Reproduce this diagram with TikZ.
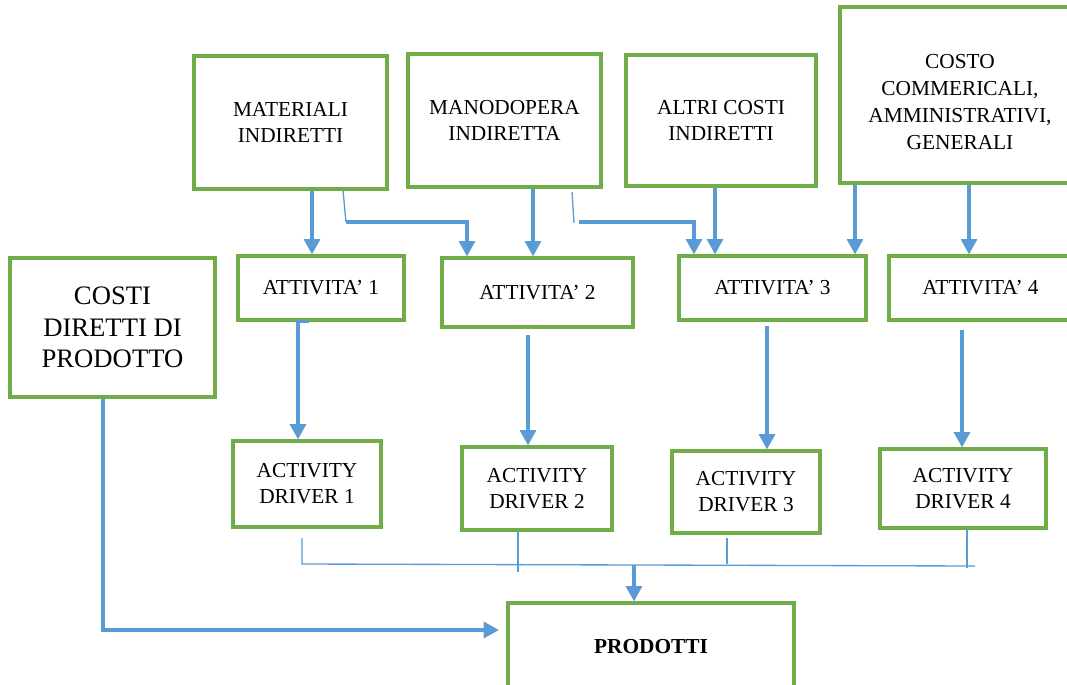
\documentclass[tikz,border=0pt]{standalone}
\usepackage{fontspec}
\setmainfont{Liberation Serif}
\usetikzlibrary{arrows.meta}

\definecolor{boxgreen}{RGB}{112,173,71}
\definecolor{flowblue}{RGB}{91,155,213}

\tikzset{every picture/.style={line width=0.75pt}}
\tikzset{
  costbox/.style={draw=boxgreen, line width=2.4pt, inner sep=0pt, align=center,
    font=\fontsize{16}{19.5}\selectfont},
  flow/.style={draw=flowblue, line width=2.4pt, -{Triangle[width=12pt,length=11.5pt]}},
  link/.style={draw=flowblue, line width=1pt},
}

\begin{document}
\begin{tikzpicture}[x=0.75pt,y=0.75pt,yscale=-1,xscale=1]
\useasboundingbox (0,0) rectangle (1067,685);

% cost pools
\node [costbox, minimum width=144.75pt, minimum height=99.75pt] (matind) at (290.5,122.5) {MATERIALI\\INDIRETTI};
\node [costbox, minimum width=144.75pt, minimum height=99.75pt] (manind) at (504.5,120.5) {MANODOPERA\\INDIRETTA};
\node [costbox, minimum width=142.5pt, minimum height=98.25pt] (altind) at (721,120.5) {ALTRI COSTI\\INDIRETTI};
\node [costbox, minimum width=180pt, minimum height=132pt] (cagen) at (960,95) {};
\node [costbox, minimum width=153.75pt, minimum height=104.25pt, font=\fontsize{20}{23.6}\selectfont] (cdir) at (112.5,327.5) {COSTI\\DIRETTI DI\\PRODOTTO};

% activities
\node [costbox, minimum width=124.5pt, minimum height=48pt] (att1) at (321,288) {ATTIVITA’ 1};
\node [costbox, minimum width=143.25pt, minimum height=51.75pt] (att2) at (537.5,292.5) {ATTIVITA’ 2};
\node [costbox, minimum width=140.25pt, minimum height=48pt] (att3) at (772.5,288) {ATTIVITA’ 3};
\node [costbox, minimum width=137.25pt, minimum height=48pt] (att4) at (980.5,288) {ATTIVITA’ 4};

% drivers
\node [costbox, minimum width=111pt, minimum height=64.5pt] (drv1) at (307,484) {ACTIVITY\\DRIVER 1};
\node [costbox, minimum width=112.5pt, minimum height=62.25pt] (drv2) at (537,488.5) {ACTIVITY\\DRIVER 2};
\node [costbox, minimum width=111pt, minimum height=61.5pt] (drv3) at (746,492) {ACTIVITY\\DRIVER 3};
\node [costbox, minimum width=124.5pt, minimum height=59.25pt] (drv4) at (963,488.5) {ACTIVITY\\DRIVER 4};

\node [costbox, minimum width=214.5pt, minimum height=66pt, font=\fontsize{16}{19.5}\selectfont\bfseries] (prod) at (651,647) {PRODOTTI};

% text of the tall box sits low
\node [align=center, inner sep=0pt, font=\fontsize{16}{20.25}\selectfont] (cagentxt) at (960,102) {COSTO\\COMMERICALI,\\AMMINISTRATIVI,\\GENERALI};

% bends and free ends
\coordinate (mbend) at (346,222);
\coordinate (obend) at (579,222);
\coordinate (bus1) at (302,564);
\coordinate (bus4) at (975,566);
\coordinate (prodin) at (499,630);

% pools to activities
\draw [flow] (312,0 |- matind.south) -- (312,0 |- att1.north);
\draw [link] (343,0 |- matind.south) -- (mbend);
\draw [flow] (mbend) -| (467,0 |- att2.north);
\draw [flow] (533,0 |- manind.south) -- (533,0 |- att2.north);
\draw [link] (572,192) -- (574,223);
\draw [flow] (obend) -| (694,0 |- att3.north);
\draw [flow] (715,0 |- altind.south) -- (715,0 |- att3.north);
\draw [flow] (855,0 |- cagen.south) -- (855,0 |- att3.north);
\draw [flow] (969,0 |- cagen.south) -- (969,0 |- att4.north);

% activities to drivers
\draw [flow] (att1.south -| 309,0) -| (298,0 |- drv1.north);
\draw [flow] (528,335) -- (528,0 |- drv2.north);
\draw [flow] (767,326) -- (767,0 |- drv3.north);
\draw [flow] (962,330) -- (962,0 |- drv4.north);

% drivers to products
\draw [link] (302,538) -- (bus1) -- (bus4);
\draw [link] (518,0 |- drv2.south) -- (518,572);
\draw [link] (727,538) -- (727,564);
\draw [link] (967,0 |- drv4.south) -- (967,568);
\draw [flow] (634,565) -- (634,0 |- prod.north);
\draw [flow] (103,0 |- cdir.south) |- (prodin);

\end{tikzpicture}
\end{document}
